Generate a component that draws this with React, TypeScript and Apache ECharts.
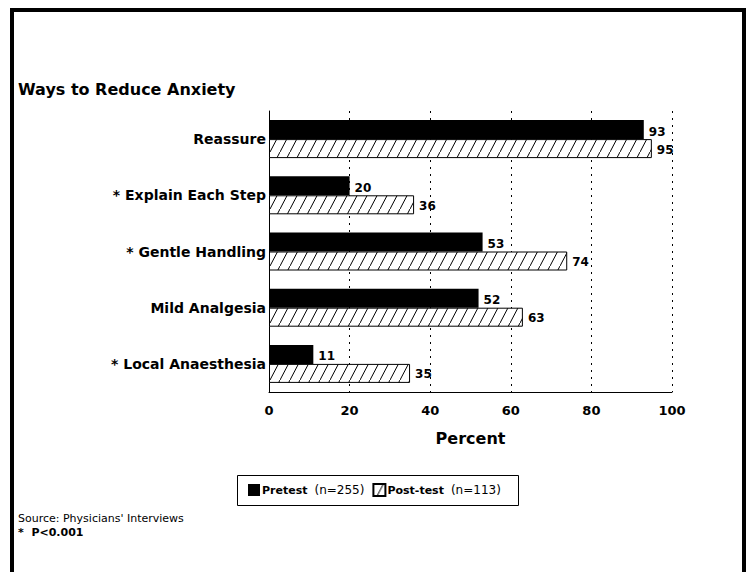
import React, { useEffect, useRef } from "react";
import * as echarts from "echarts";

const categories = [
  "Reassure",
  "* Explain Each Step",
  "* Gentle Handling",
  "Mild Analgesia",
  "* Local Anaesthesia",
];
const pretest = [93, 20, 53, 52, 11];
const posttest = [95, 36, 74, 63, 35];
const seriesNames = ["Pretest", "Post-test"];
const sampleSizes = ["(n=255)", "(n=113)"];

const FONT = "DejaVu Sans";

function makeHatch(): HTMLCanvasElement {
  const c = document.createElement("canvas");
  const w = 10;
  const h = 19;
  c.width = w;
  c.height = h;
  const ctx = c.getContext("2d")!;
  ctx.fillStyle = "#ffffff";
  ctx.fillRect(0, 0, w, h);
  ctx.strokeStyle = "#000000";
  ctx.lineWidth = 1;
  ctx.beginPath();
  ctx.moveTo(-1, h + 1.9);
  ctx.lineTo(w + 1, -1.9);
  ctx.stroke();
  return c;
}

export default function App() {
  const ref = useRef<HTMLDivElement>(null);
  useEffect(() => {
    if (!ref.current) return;
    const chart = echarts.init(ref.current, undefined, { renderer: "svg" });
    const hatch = { image: makeHatch(), repeat: "repeat" } as any;
    const legendNameMap: Record<string, string> = {
      [seriesNames[0]]: sampleSizes[0],
      [seriesNames[1]]: sampleSizes[1],
    };
    chart.setOption({
      animation: false,
      backgroundColor: "#ffffff",
      grid: { left: 269, right: 80, top: 111, bottom: 180, containLabel: false },
      xAxis: {
        type: "value",
        min: 0,
        max: 100,
        interval: 20,
        name: "Percent",
        nameLocation: "middle",
        nameGap: 38,
        nameTextStyle: { fontFamily: FONT, fontWeight: "bold", fontSize: 16, color: "#000" },
        axisLine: { show: true, lineStyle: { color: "#000", width: 1 } },
        axisTick: { show: false },
        axisLabel: { fontFamily: FONT, fontWeight: "bold", fontSize: 13, color: "#000", margin: 12 },
        splitLine: { show: true, lineStyle: { color: "#000", width: 1, type: [2, 5] } },
      },
      yAxis: {
        type: "category",
        inverse: true,
        data: categories,
        axisLine: { show: true, lineStyle: { color: "#000", width: 1 } },
        axisTick: { show: false },
        axisLabel: { fontFamily: FONT, fontWeight: "bold", fontSize: 14, color: "#000", margin: 3 },
        splitLine: { show: false },
      },
      legend: {
        left: 248,
        top: 483,
        itemWidth: 12,
        itemHeight: 12,
        itemGap: 8,
        padding: 0,
        icon: "rect",
        data: seriesNames,
        formatter: (name: string) => `{b|${name}}{n|${legendNameMap[name]}}`,
        textStyle: {
          color: "#000",
          padding: [0, 0, 0, -3],
          rich: {
            b: { fontFamily: FONT, fontWeight: "bold", fontSize: 11, color: "#000" },
            n: { fontFamily: FONT, fontSize: 12, color: "#000", padding: [0, 0, 0, 7] },
          },
        },
      },
      graphic: [
        {
          type: "rect",
          shape: { x: 12, y: 10, width: 732, height: 620 },
          style: { fill: "none", stroke: "#000", lineWidth: 4 },
          silent: true,
        },
        {
          type: "rect",
          shape: { x: 237.5, y: 475.5, width: 281, height: 30 },
          style: { fill: "none", stroke: "#000", lineWidth: 1 },
          silent: true,
        },
        {
          type: "text",
          left: 18,
          top: 81,
          style: { text: "Ways to Reduce Anxiety", fontFamily: FONT, fontWeight: "bold", fontSize: 16, fill: "#000" },
        },
        {
          type: "text",
          left: 18,
          top: 513,
          style: { text: "Source: Physicians' Interviews", fontFamily: FONT, fontSize: 11, fill: "#000" },
        },
        {
          type: "text",
          left: 18,
          top: 527,
          style: { text: "*  P<0.001", fontFamily: FONT, fontWeight: "bold", fontSize: 11, fill: "#000" },
        },
      ],
      series: [
        {
          name: seriesNames[0],
          type: "bar",
          data: pretest,
          barWidth: 19,
          barGap: "0%",
          itemStyle: { color: "#000" },
          label: {
            show: true,
            position: "right",
            distance: 5,
            offset: [0, 2],
            fontFamily: FONT,
            fontWeight: "bold",
            fontSize: 12,
            color: "#000",
          },
        },
        {
          name: seriesNames[1],
          type: "bar",
          data: posttest,
          barWidth: 19,
          barGap: "0%",
          itemStyle: { color: hatch, borderColor: "#000", borderWidth: 1 },
          label: {
            show: true,
            position: "right",
            distance: 5,
            offset: [0, 1],
            fontFamily: FONT,
            fontWeight: "bold",
            fontSize: 12,
            color: "#000",
          },
        },
      ],
    });
    return () => chart.dispose();
  }, []);
  return (
    <div
      ref={ref}
      style={{ position: "absolute", left: 0, top: 0, width: 752, height: 572, background: "#fff" }}
    />
  );
}
